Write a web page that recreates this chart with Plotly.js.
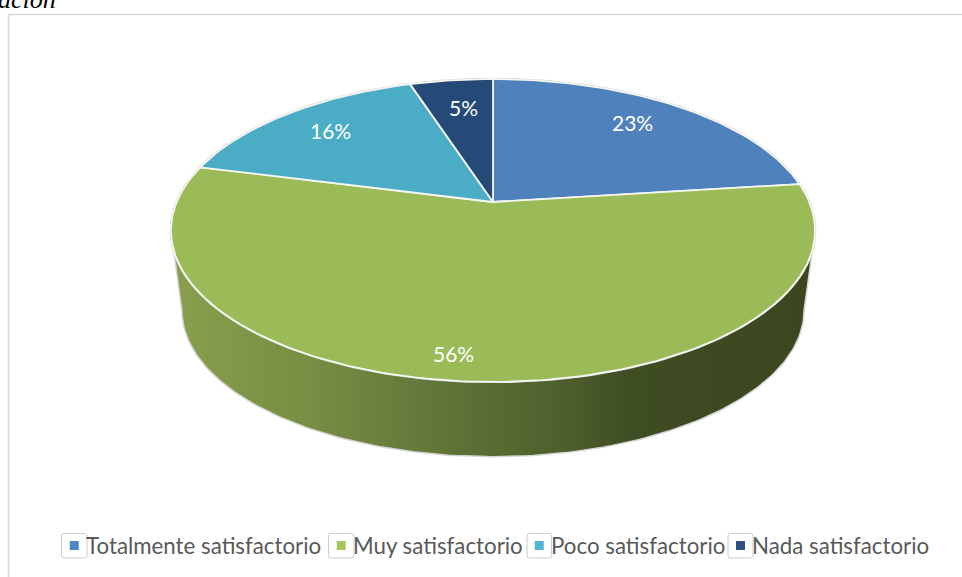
<!DOCTYPE html>
<html>
<head>
<meta charset="utf-8">
<script src="https://cdn.plot.ly/plotly-3.0.1.min.js"></script>
<style>html,body{margin:0;padding:0;background:#fff;overflow:hidden}#c{width:962px;height:577px}</style>
</head>
<body>
<div id="c"></div>
<script>
const categories = ["Totalmente satisfactorio", "Muy satisfactorio", "Poco satisfactorio", "Nada satisfactorio"];
const values = [23, 56, 16, 5];
const sliceColors = ["#4f81bd", "#9bbb59", "#4bacc6", "#264a78"];
const legendColors = ["#4f86c6", "#a5c65c", "#50b5d2", "#2f5283"];
const labelRadius = [0.75, 0.75, 0.75, 0.75];
const labelNudge = [[-2, -5], [-22, 24], [-5, -3], [3, 0]];

// perspective projection of a flat disc
const K = 0.188;
const topDisc = {cx: 493, cy: 202, a: 316.3, b: 146.1};
const baseDisc = {cx: 493, cy: 283, a: 305.5, b: 141};
function project(d, angleDeg, r) {
  const t = angleDeg * Math.PI / 180;
  const X = r * Math.cos(t), Y = r * Math.sin(t), w = 1 + K * Y;
  return [d.cx + d.a * X / w, d.cy - d.b * Y / w];
}

const total = values.reduce((p, v) => p + v, 0);
const traces = [];

// side wall: front half of the top rim and of the base rim
const extreme = Math.asin(-K) * 180 / Math.PI;
const wx = [], wy = [];
for (let t = 180 - extreme; t <= 360 + extreme; t += 1) { const p = project(topDisc, t, 1); wx.push(p[0]); wy.push(p[1]); }
for (let t = 360 + extreme; t >= 180 - extreme; t -= 1) { const p = project(baseDisc, t, 1); wx.push(p[0]); wy.push(p[1]); }
wx.push(wx[0]); wy.push(wy[0]);
traces.push({
  type: "scatter", mode: "lines", x: wx, y: wy, fill: "toself", hoverinfo: "skip", showlegend: false,
  line: {color: "#d4d4d4", width: 1.5},
  fillgradient: {
    type: "horizontal", start: 175, stop: 810,
    colorscale: [[0, "#889f4d"], [0.2, "#788f44"], [0.4, "#64773a"], [0.5, "#586c32"], [0.62, "#4d5e2c"], [0.72, "#3f4d23"], [1, "#3b461f"]]
  }
});

// grey halo round the top rim
const hx = [], hy = [];
for (let t = 0; t <= 360; t += 1) { const p = project(topDisc, t, 1); hx.push(p[0]); hy.push(p[1]); }
traces.push({type: "scatter", mode: "lines", x: hx, y: hy, hoverinfo: "skip", showlegend: false, line: {color: "#d0d0d0", width: 2.5}});

// slices, clockwise from twelve o'clock
const annotations = [];
let cum = 0;
values.forEach((v, i) => {
  const a0 = 90 - cum / total * 360, a1 = 90 - (cum + v) / total * 360;
  const xs = [topDisc.cx], ys = [topDisc.cy];
  for (let t = a0; t > a1; t -= 1) { const p = project(topDisc, t, 1); xs.push(p[0]); ys.push(p[1]); }
  const e = project(topDisc, a1, 1); xs.push(e[0]); ys.push(e[1]);
  xs.push(topDisc.cx); ys.push(topDisc.cy);
  traces.push({type: "scatter", mode: "lines", name: categories[i], x: xs, y: ys, fill: "toself", fillcolor: sliceColors[i], hoverinfo: "name", showlegend: false, line: {color: "#f4f6ef", width: 1.8}});
  const m = project(topDisc, (a0 + a1) / 2, labelRadius[i]);
  annotations.push({x: m[0] + labelNudge[i][0], y: m[1] + labelNudge[i][1], xref: "x", yref: "y", text: v + "%", showarrow: false,
    font: {family: "Lato, Carlito, sans-serif", size: 21, color: "#ffffff"}});
  cum += v;
});

// frame + legend
const shapes = [
  {type: "line", xref: "x", yref: "y", x0: 8.5, x1: 8.5, y0: 14.5, y1: 577, line: {color: "#d9d9d9", width: 1.5}},
  {type: "line", xref: "x", yref: "y", x0: 8, x1: 962, y0: 14.5, y1: 14.5, line: {color: "#d9d9d9", width: 1.5}}
];
const legendBoxLeft = [61.5, 328.5, 527, 728];
const legendBoxWidth = [25.5, 25.5, 24.5, 25];
function roundRect(x, y, w, h, r) {
  return `M${x + r},${y} H${x + w - r} Q${x + w},${y} ${x + w},${y + r} V${y + h - r} Q${x + w},${y + h} ${x + w - r},${y + h} H${x + r} Q${x},${y + h} ${x},${y + h - r} V${y + r} Q${x},${y} ${x + r},${y} Z`;
}
categories.forEach((c, i) => {
  const l = legendBoxLeft[i], w = legendBoxWidth[i];
  shapes.push({type: "path", xref: "x", yref: "y", path: roundRect(l, 533.5, w, 24.5, 2.5), fillcolor: "#ffffff", line: {color: "#cccccc", width: 1}});
  const mx = l + w / 2;
  shapes.push({type: "rect", xref: "x", yref: "y", x0: mx - 4.5, x1: mx + 4.5, y0: 541, y1: 550, fillcolor: legendColors[i], line: {width: 0}});
  annotations.push({x: l + w, y: 545, xref: "x", yref: "y", xanchor: "left", yanchor: "middle", xshift: -3, text: c, showarrow: false,
    font: {family: "Lato, Carlito, sans-serif", size: 22.3, color: "#595959"}});
});

// clipped remnant of the caption above the chart
annotations.push({x: 57, y: 15, xref: "x", yref: "y", xanchor: "right", yanchor: "bottom", text: "<i>ación</i>", showarrow: false, borderpad: 0,
  font: {family: "'Liberation Serif', serif", size: 26, color: "#000000"}});

Plotly.newPlot("c", traces, {
  width: 962, height: 577, margin: {l: 0, r: 0, t: 0, b: 0},
  paper_bgcolor: "#ffffff", plot_bgcolor: "#ffffff", showlegend: false,
  xaxis: {range: [0, 962], visible: false, fixedrange: true},
  yaxis: {range: [577, 0], visible: false, fixedrange: true},
  shapes, annotations
}, {displayModeBar: false, staticPlot: true});
</script>
</body>
</html>
